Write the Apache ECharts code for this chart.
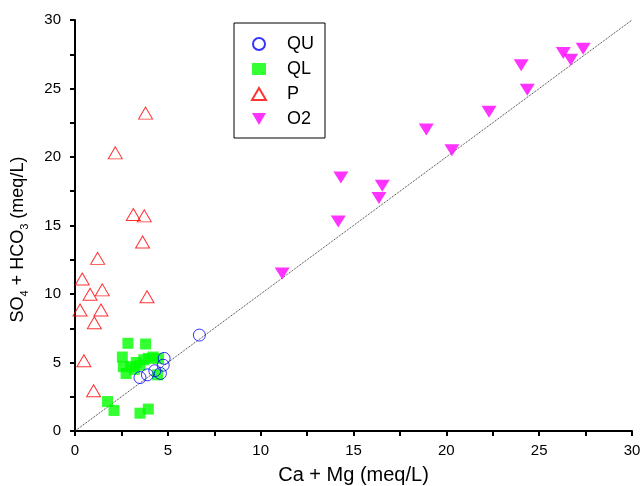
<!DOCTYPE html>
<html>
<head>
<meta charset="utf-8">
<script src="https://cdn.jsdelivr.net/npm/echarts@6/dist/echarts.min.js"></script>
<style>html,body{margin:0;padding:0;background:#fff;}#c{width:641px;height:486px;}</style>
</head>
<body>
<div id="c"></div>
<script>
// Data (Ca+Mg, SO4+HCO3) in meq/L
const seriesNames = ['QU', 'QL', 'P', 'O2'];
const quData = [[3.5,3.9],[3.9,4.1],[4.3,4.4],[4.6,4.2],[4.75,4.8],[4.8,5.3],[6.7,7.0]];
const qlData = [[1.75,2.15],[2.1,1.5],[3.5,1.3],[3.95,1.6],[2.85,6.4],[3.8,6.35],[2.55,5.4],[2.6,4.7],[2.75,4.2],[3.0,4.7],[3.3,5.0],[3.5,4.8],[3.7,5.2],[3.95,5.3],[4.2,5.4],[4.5,5.3],[4.45,4.1],[3.2,4.5]];
const pData = [[3.8,23.2],[2.17,20.3],[3.14,15.8],[3.73,15.7],[3.64,13.8],[1.22,12.6],[0.39,11.1],[1.47,10.3],[0.81,9.98],[3.88,9.8],[0.27,8.83],[1.4,8.83],[1.04,7.9],[0.48,5.13],[1.0,2.94]];
const o2Data = [[11.16,11.5],[14.18,15.3],[14.32,18.5],[16.37,17.0],[16.55,17.9],[18.92,22.0],[20.3,20.5],[22.3,23.3],[24.03,26.7],[24.36,24.9],[26.3,27.6],[26.7,27.1],[27.37,27.9]];
const refLine = [[0,0],[30,30]];
const axisMin = 0, axisMax = 30, axisStep = 5;

const font = 'Arial, "Liberation Sans", sans-serif';
const downTriangle = 'path://M0,0 L10,0 L5,8.5 Z';
const chart = echarts.init(document.getElementById('c'), null, {renderer: 'canvas'});
const axisCommon = {
  min: axisMin, max: axisMax, interval: axisStep,
  axisLine: {show: true, onZero: false, lineStyle: {color: '#000', width: 2}},
  axisTick: {show: true, inside: false, length: 5, lineStyle: {color: '#000', width: 2}},
  minorTick: {show: true, splitNumber: 2, length: 5, lineStyle: {color: '#000', width: 2}},
  splitLine: {show: false},
  axisLabel: {color: '#000', fontSize: 15, fontFamily: font}
};
chart.setOption({
  animation: false,
  backgroundColor: '#fff',
  grid: {left: 75, right: 9, top: 20, bottom: 55, containLabel: false, outerBoundsMode: 'none'},
  legend: {
    data: seriesNames,
    orient: 'vertical',
    left: 234, top: 23,
    padding: [12, 11, 10, 17],
    itemWidth: 14, itemHeight: 12, itemGap: 7,
    symbolKeepAspect: true,
    borderColor: '#000', borderWidth: 1,
    textStyle: {color: '#000', fontSize: 18, fontFamily: font, padding: [0, 0, 0, 16]}
  },
  xAxis: Object.assign({}, axisCommon, {
    type: 'value',
    axisLabel: Object.assign({}, axisCommon.axisLabel, {margin: 12}),
    name: 'Ca + Mg (meq/L)', nameLocation: 'middle', nameGap: 34,
    nameTextStyle: {color: '#000', fontSize: 20, fontFamily: font}
  }),
  yAxis: Object.assign({}, axisCommon, {
    type: 'value',
    axisLabel: Object.assign({}, axisCommon.axisLabel, {margin: 14}),
    name: '{a|SO}{s|4}{a| + HCO}{s|3}{a| (meq/L)}', nameLocation: 'middle', nameGap: 45,
    nameTextStyle: {color: '#000', fontSize: 18, fontFamily: font, padding: [0, 28, 0, 0],
      rich: {a: {fontSize: 18, fontFamily: font, color: '#000'},
             s: {fontSize: 11, fontFamily: font, color: '#000', padding: [12, 0, 0, 0]}}}
  }),
  series: [
    {type: 'line', data: refLine, symbol: 'none', silent: true, z: 1,
     lineStyle: {color: '#333', width: 1, type: 'dotted'}},
    {name: 'P', type: 'scatter', data: pData, symbol: 'triangle', symbolSize: [14, 12], z: 3,
     itemStyle: {color: 'rgba(255,255,255,0)', borderColor: '#ff0000', borderWidth: 1}},
    {name: 'QL', type: 'scatter', data: qlData, symbol: 'rect', symbolSize: 11, z: 3,
     itemStyle: {color: '#00ff00'}},
    {name: 'QU', type: 'scatter', data: quData, symbol: 'circle', symbolSize: 12, z: 4,
     itemStyle: {color: 'rgba(255,255,255,0)', borderColor: '#0000ff', borderWidth: 1}},
    {name: 'O2', type: 'scatter', data: o2Data, symbol: downTriangle, symbolSize: [15, 12], z: 3,
     itemStyle: {color: '#ff00ff'}}
  ]
});
</script>
</body>
</html>
